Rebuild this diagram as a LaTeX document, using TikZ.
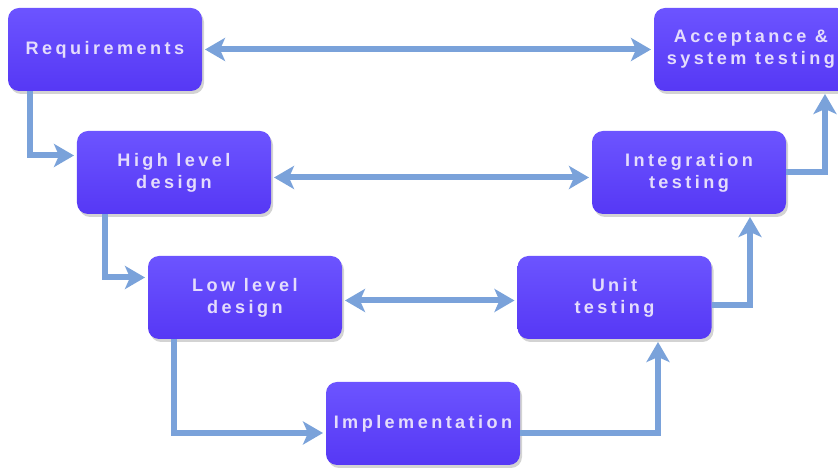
\documentclass[tikz,border=0pt]{standalone}
\usepackage{fontspec}
\usepackage{xcolor}
\usepackage{tikz}
\usetikzlibrary{arrows.meta, shadows, calc}
\newfontfamily\kastenschrift[LetterSpace=19]{Liberation Sans}
\definecolor{kastenblau}{RGB}{86,56,245}
\definecolor{kastenhell}{RGB}{108,84,255}
\definecolor{schriftlila}{RGB}{228,220,252}
\definecolor{pfeilblau}{RGB}{122,162,218}

\tikzset{
	kasten/.style={rectangle, rounded corners=0.22cm, minimum width=3.88cm, minimum height=1.66cm,
		top color=kastenhell, bottom color=kastenblau, draw=none, outer sep=0pt,
		text=schriftlila, align=center, font=\kastenschrift\bfseries\fontsize{10.3}{12.5}\selectfont,
		drop shadow={shadow xshift=0.04cm, shadow yshift=-0.06cm, opacity=0.35}},
	pfeil/.style={draw=pfeilblau, line width=0.12cm, shorten >=0.06cm,
		-{Stealth[length=0.4cm, width=0.46cm, inset=0.1cm]}},
	doppelpfeil/.style={pfeil, shorten <=0.06cm, {Stealth[length=0.4cm, width=0.46cm, inset=0.1cm]}-{Stealth[length=0.4cm, width=0.46cm, inset=0.1cm]}}
}

\begin{document}
\begin{tikzpicture}[>=stealth]
		\useasboundingbox (0,0) rectangle (16.76,-9.36);
		
		% Kaesten
		\node[kasten] (req) at (2.1,-0.99) {Requirements};
		\node[kasten] (ack) at (15.02,-0.99) {Acceptance \&\\system testing};
		\node[kasten] (hld) at (3.48,-3.45) {High level\\design};
		\node[kasten] (int) at (13.78,-3.45) {Integration\\testing};
		\node[kasten] (lld) at (4.9,-5.95) {Low level\\design};
		\node[kasten] (unit) at (12.29,-5.95) {Unit\\testing};
		\node[kasten] (impl) at (8.46,-8.47) {Implementation};
		
		% Doppelpfeile
		\draw[doppelpfeil] (req) -- (ack);
		\draw[doppelpfeil] ([yshift=-0.1cm]hld.east) -- ([yshift=-0.1cm]int.west);
		\draw[doppelpfeil] ([yshift=-0.06cm]lld.east) -- ([yshift=-0.06cm]unit.west);
		
		% Linker Ast
		\draw[pfeil] ([xshift=0.44cm]req.south west) |- ([yshift=0.34cm]hld.west);
		\draw[pfeil] ([xshift=0.56cm]hld.south west) |- ([yshift=0.4cm]lld.west);
		\draw[pfeil] ([xshift=0.52cm]lld.south west) |- ([yshift=-0.19cm]impl.west);
		
		% Rechter Ast
		\draw[pfeil] ([yshift=-0.2cm]impl.east) -| ([xshift=0.87cm]unit.south);
		\draw[pfeil] ([yshift=-0.16cm]unit.east) -| ([xshift=-0.72cm]int.south east);
		\draw[pfeil] (int.east) -| ([xshift=3.42cm]ack.south west);
	\end{tikzpicture}
\end{document}
